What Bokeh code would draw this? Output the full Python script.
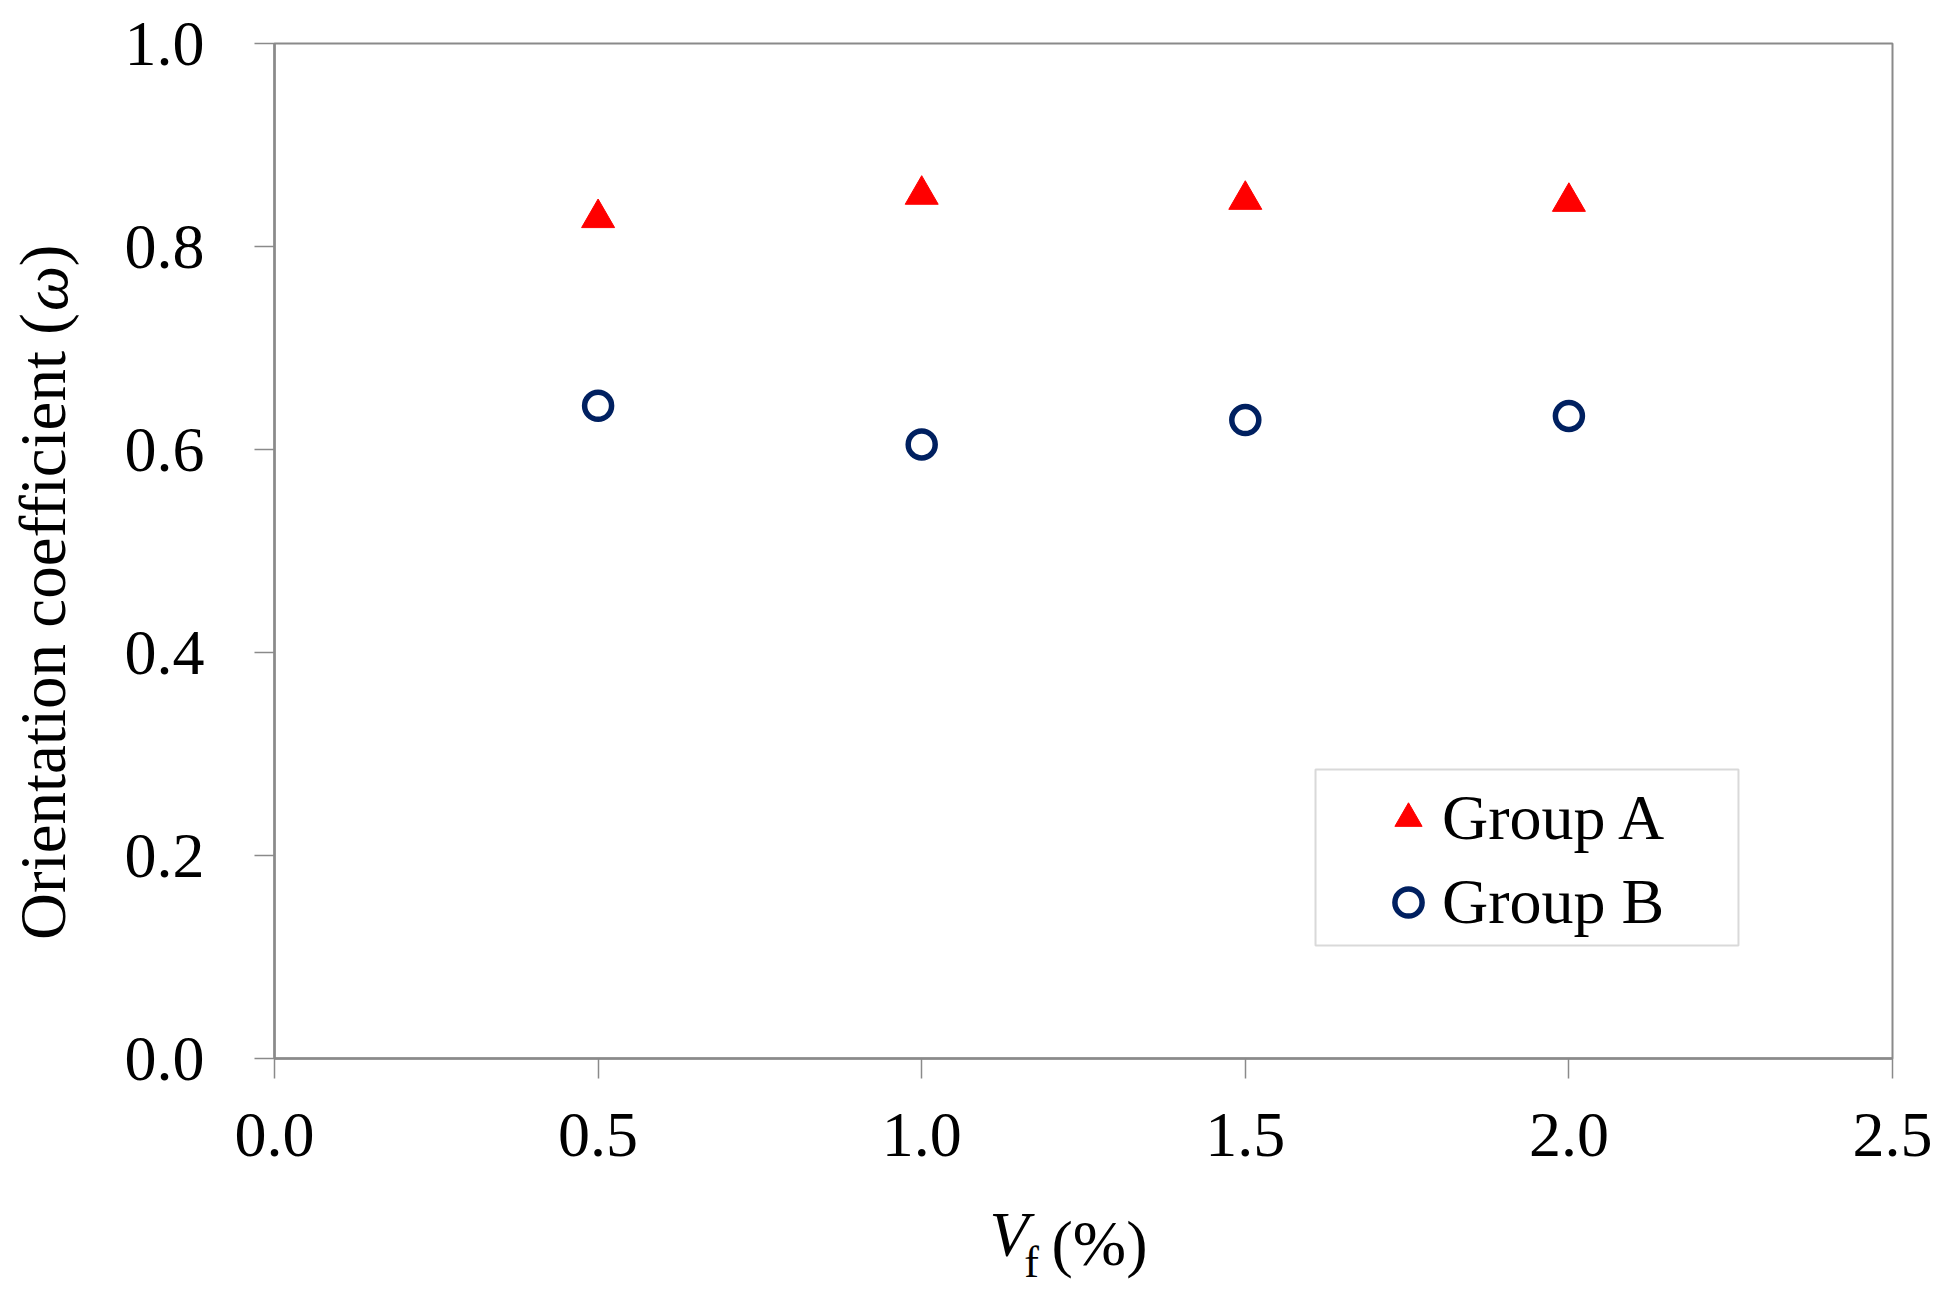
from bokeh.plotting import figure
from bokeh.models import (Range1d, FixedTicker, PrintfTickFormatter, Legend,
                          BoxAnnotation, LinearAxis)
from bokeh.embed import file_html
from bokeh.resources import INLINE

# ---- data ----
vf = [0.5, 1.0, 1.5, 2.0]
group_a = [0.828, 0.851, 0.846, 0.844]
group_b = [0.643, 0.605, 0.629, 0.633]
x_ticks = [0.0, 0.5, 1.0, 1.5, 2.0, 2.5]
y_ticks = [0.0, 0.2, 0.4, 0.6, 0.8, 1.0]
series_names = ["Group A", "Group B"]

# ---- axis-title pieces (text placed along invisible helper axes) ----
y_title_main = ["Orientation coefficient (", ")"]
y_title_main_at = [0.4256, 0.7911]
y_title_sym = ["ω"]
y_title_sym_at = [0.7586]
x_title_var = ["V"]
x_title_var_at = [1.1349]
x_title_sub = ["f"]
x_title_sub_at = [1.1697]
x_title_unit = "\u2002(%)"

FONT = "Liberation Serif"
AX = "#8a8a8a"
H_ROW = 65   # extent of a horizontal 64px text row
H_COL = 77   # extent of a rotated 65px text column

p = figure(width=1935, height=1289, output_backend="svg", toolbar_location=None,
           x_range=Range1d(0, 2.5), y_range=Range1d(0, 1.0),
           min_border_left=274, min_border_right=43, min_border_top=43,
           min_border_bottom=231)
p.background_fill_color = "white"
p.border_fill_color = "white"
p.grid.visible = False
p.outline_line_color = AX
p.outline_line_width = 2

main_x = p.xaxis[0]
main_y = p.yaxis[0]
for ax in (main_x, main_y):
    ax.axis_line_color = AX
    ax.axis_line_width = 2.5
    ax.major_tick_line_color = AX
    ax.major_tick_line_width = 1.5
    ax.major_tick_out = 20
    ax.major_tick_in = 0
    ax.minor_tick_line_color = None
    ax.major_label_text_font = FONT
    ax.major_label_text_font_size = "64px"
    ax.major_label_text_color = "black"
    ax.formatter = PrintfTickFormatter(format="%.1f")
main_x.ticker = FixedTicker(ticks=x_ticks)
main_y.ticker = FixedTicker(ticks=y_ticks)
main_x.major_label_standoff = 35
main_y.major_label_standoff = 50


def text_axis(ticks, labels, size, style, standoff, vertical=False):
    ax = LinearAxis(ticker=FixedTicker(ticks=list(ticks)),
                    major_label_overrides=dict(zip(ticks, labels)),
                    axis_line_color=None, major_tick_line_color=None,
                    minor_tick_line_color=None,
                    major_tick_out=0, major_tick_in=0, minor_tick_out=0, minor_tick_in=0,
                    major_label_standoff=standoff,
                    major_label_text_font=FONT, major_label_text_font_size=size,
                    major_label_text_font_style=style, major_label_text_color="black")
    if vertical:
        ax.major_label_orientation = "parallel"
    return ax


# x title: V (italic) and (%) on one row, subscript f just below
ax_v = text_axis(x_title_var_at, x_title_var, "64px", "italic", 40)
ax_v.axis_label = x_title_unit
ax_v.axis_label_standoff = -H_ROW
ax_v.axis_label_text_font = FONT
ax_v.axis_label_text_font_size = "64px"
ax_v.axis_label_text_font_style = "normal"
ax_v.axis_label_text_color = "black"
p.add_layout(ax_v, "below")
ax_f = text_axis(x_title_sub_at, x_title_sub, "44px", "normal", -44)
p.add_layout(ax_f, "below")

# y title: upright parts and italic omega in the same column
ax_yt = text_axis(y_title_main_at, y_title_main, "65px", "normal", 42, vertical=True)
p.add_layout(ax_yt, "left")
ax_w = text_axis(y_title_sym_at, y_title_sym, "64px", "italic", -H_COL, vertical=True)
p.add_layout(ax_w, "left")

ra = p.scatter(vf, group_a, marker="triangle", size=33, fill_color="#FF0000",
               line_color="#FF0000", line_width=1)
rb = p.scatter(vf, group_b, marker="circle", size=27, fill_color="white",
               line_color="#002060", line_width=5.5)

# legend frame (styling only)
p.add_layout(BoxAnnotation(left=1.6085, right=2.262, bottom=0.1113, top=0.2847,
                           fill_color="white", fill_alpha=1.0,
                           line_color="#808080", line_width=2))

legend = Legend(items=[(series_names[0], [ra]), (series_names[1], [rb])],
                location=(1100, 119))
legend.label_text_font = FONT
legend.label_text_font_size = "64px"
legend.label_text_color = "black"
legend.border_line_color = None
legend.background_fill_alpha = 0.0
legend.padding = 9
legend.spacing = 10
legend.margin = 0
legend.glyph_width = 68
legend.glyph_height = 72
legend.label_standoff = 0
legend.label_height = 72
p.add_layout(legend)

open("out.html", "w").write(file_html(p, INLINE))
